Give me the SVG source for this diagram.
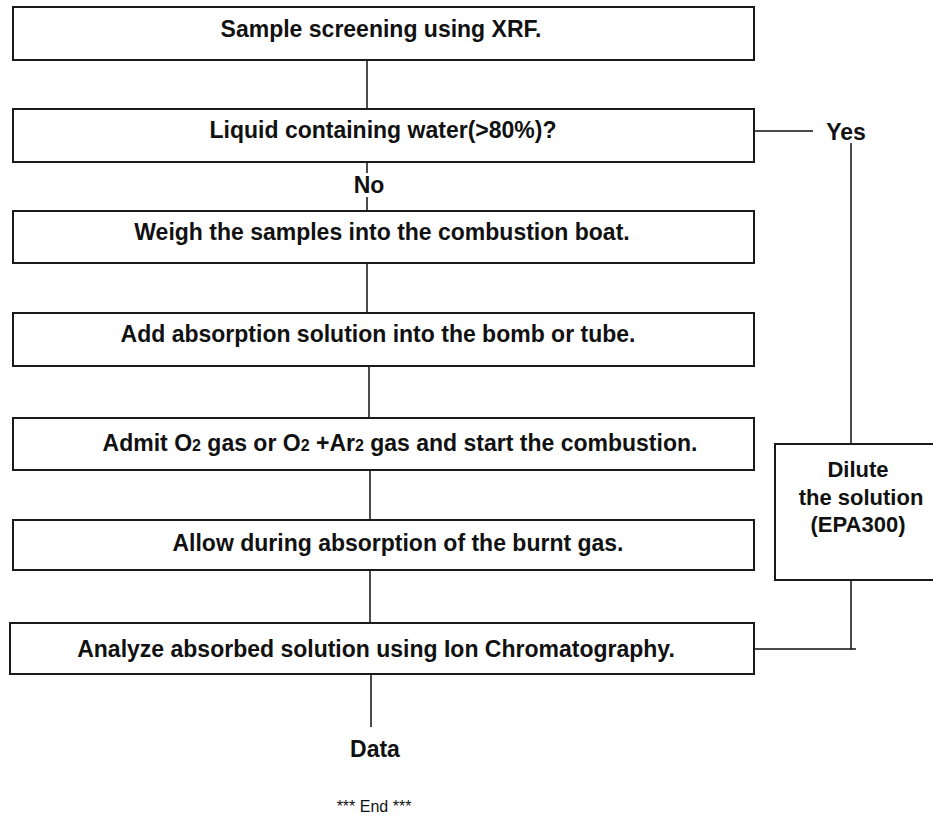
<svg xmlns="http://www.w3.org/2000/svg" width="933" height="821" viewBox="0 0 933 821">
<style>
.box{fill:#fff;stroke:#1a1a1a;stroke-width:2}
.t{font-family:"Liberation Sans",Arial,sans-serif;font-weight:bold;font-size:23px;fill:#111;text-anchor:middle}
.s{font-size:16px}
.c{fill:none;stroke:#111;stroke-width:1.5}
.end{font-family:"Liberation Sans",Arial,sans-serif;font-size:16px;fill:#111;text-anchor:middle}
</style>
<rect width="933" height="821" fill="#fff"/>
<g id="connectors">
<line class="c" x1="367" y1="60" x2="367" y2="109"/>
<line class="c" x1="367" y1="162" x2="367" y2="173"/>
<line class="c" x1="367" y1="197" x2="367" y2="211"/>
<line class="c" x1="367" y1="263" x2="367" y2="313"/>
<line class="c" x1="369" y1="366" x2="369" y2="418"/>
<line class="c" x1="370" y1="470" x2="370" y2="520"/>
<line class="c" x1="370" y1="570" x2="370" y2="623"/>
<line class="c" x1="371" y1="674" x2="371" y2="727"/>
<line class="c" x1="752" y1="131" x2="813" y2="131"/>
<line class="c" x1="851" y1="143" x2="851" y2="444"/>
<polyline class="c" points="851,580 851,649 754,649"/>
<line class="c" x1="851" y1="649" x2="856" y2="649"/>
</g>
<g id="n1"><rect class="box" x="13" y="7" width="741" height="53"/><text class="t" x="381" y="37">Sample screening using XRF.</text></g>
<g id="n2"><rect class="box" x="13" y="109" width="741" height="53"/><text class="t" x="383" y="138">Liquid containing water(&gt;80%)?</text></g>
<g id="lblNo"><text class="t" x="369" y="193">No</text></g>
<g id="lblYes"><text class="t" x="846" y="140">Yes</text></g>
<g id="n3"><rect class="box" x="13" y="211" width="741" height="52"/><text class="t" x="382" y="240">Weigh the samples into the combustion boat.</text></g>
<g id="n4"><rect class="box" x="13" y="313" width="741" height="53"/><text class="t" x="378" y="342">Add absorption solution into the bomb or tube.</text></g>
<g id="n5"><rect class="box" x="13" y="418" width="741" height="52"/><text class="t" x="400" y="451">Admit O<tspan class="s">2</tspan> gas or O<tspan class="s">2</tspan> +Ar<tspan class="s">2</tspan> gas and start the combustion.</text></g>
<g id="n6"><rect class="box" x="13" y="520" width="741" height="50"/><text class="t" x="398" y="551">Allow during absorption of the burnt gas.</text></g>
<g id="n7"><rect class="box" x="10" y="623" width="744" height="51"/><text class="t" x="376" y="657">Analyze absorbed solution using Ion Chromatography.</text></g>
<g id="n8"><rect class="box" x="775" y="444" width="160" height="136"/>
<text class="t" style="font-size:22px" x="858" y="477">Dilute</text>
<text class="t" style="font-size:22px" x="861" y="505">the solution</text>
<text class="t" style="font-size:22px" x="858" y="532">(EPA300)</text></g>
<g id="data"><text class="t" x="375" y="757">Data</text></g>
<g id="end"><text class="end" x="374" y="812">*** End ***</text></g>
</svg>
